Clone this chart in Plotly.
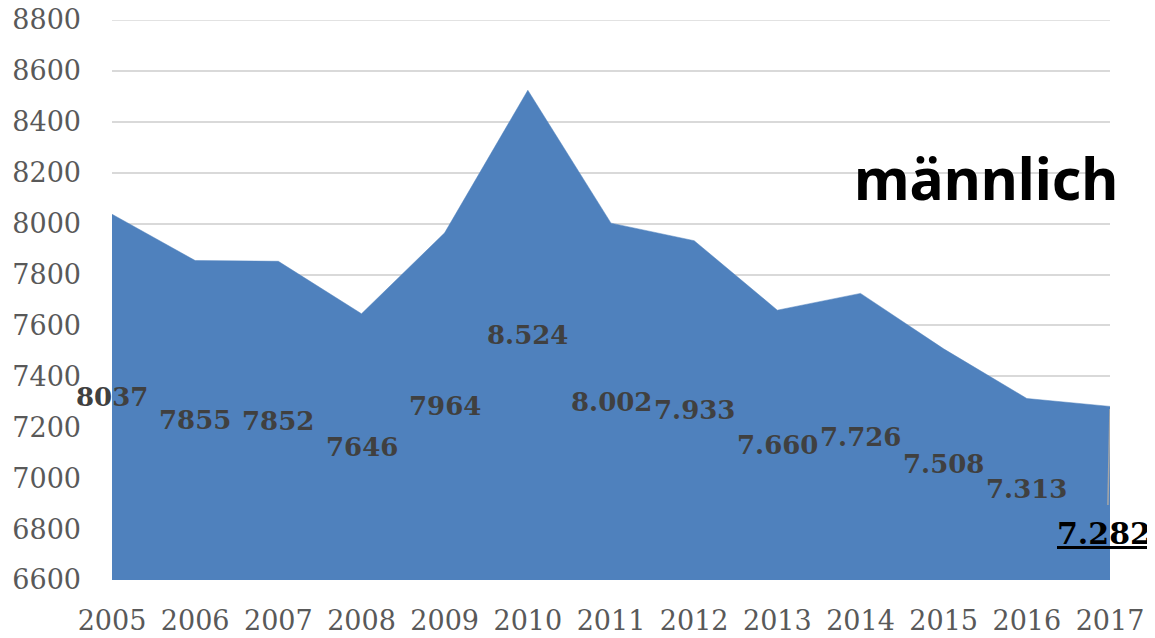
import plotly.graph_objects as go

years = ["2005", "2006", "2007", "2008", "2009", "2010", "2011",
         "2012", "2013", "2014", "2015", "2016", "2017"]
values = [8037, 7855, 7852, 7646, 7964, 8524, 8002, 7933, 7660, 7726, 7508, 7313, 7282]
label_texts = ["8037", "7855", "7852", "7646", "7964", "8.524", "8.002",
               "7.933", "7.660", "7.726", "7.508", "7.313", "7.282"]
y_ticks = [6600, 6800, 7000, 7200, 7400, 7600, 7800, 8000, 8200, 8400, 8600, 8800]
title_text = "männlich"

Y_MIN, Y_MAX = 6600, 8800
BLUE = "#4F81BD"
GRID = "#D9D9D9"

fig = go.Figure()
fig.add_trace(go.Scatter(
    x=list(range(len(years))), y=values, mode="lines",
    fill="tozeroy", fillcolor=BLUE,
    line=dict(color=BLUE, width=0.5),
    hoverinfo="skip", showlegend=False,
))

# data labels, centred vertically in the area (as in the original)
for i, (v, t) in enumerate(zip(values, label_texts)):
    if i == len(values) - 1:
        continue
    fig.add_annotation(
        x=i, y=(v + Y_MIN) / 2, xref="x", yref="y", text="<b>" + t + "</b>",
        showarrow=False, font=dict(family="DejaVu Serif", size=26, color="#404040"),
    )

# last label, moved down with leader line and underline
last = len(values) - 1
last_label_y = 6784
fig.add_shape(type="line", xref="x", yref="y",
              x0=last, y0=values[last] - 10, x1=last - 0.025, y1=6895,
              line=dict(color="#A6A6A6", width=1.5))
fig.add_annotation(
    x=last, y=last_label_y, xref="x", yref="y", xshift=-6,
    text="<b><u>" + label_texts[last] + "</u></b>", showarrow=False,
    font=dict(family="DejaVu Serif", size=30, color="#000000"),
)

# top gridline (plotly drops the grid line lying on the plot edge)
fig.add_shape(type="line", xref="paper", yref="y", x0=0, x1=1, y0=Y_MAX, y1=Y_MAX,
              line=dict(color=GRID, width=1.5), layer="below")

fig.add_annotation(
    x=0.876, y=0.718, xref="paper", yref="paper", text=title_text,
    xanchor="center", yanchor="middle",
    showarrow=False, font=dict(family="Noto Sans", size=57, color="#000000", weight="bold"),
)

# page body has an 8px default margin, so the figure is sized to fit inside
fig.update_layout(
    width=1147, height=630,
    margin=dict(l=104, r=45, t=12, b=58, autoexpand=False),
    paper_bgcolor="white", plot_bgcolor="white",
    xaxis=dict(
        tickmode="array", tickvals=list(range(len(years))), ticktext=years,
        range=[0, len(years) - 1], showgrid=False, zeroline=False, showline=False,
        ticks="", ticklabelstandoff=22, automargin=False, ticklabeloverflow="allow",
        tickfont=dict(family="DejaVu Serif", size=27, color="#595959"),
    ),
    yaxis=dict(
        range=[Y_MIN, Y_MAX], tickmode="array", tickvals=y_ticks,
        ticktext=[str(t) for t in y_ticks],
        showgrid=True, gridcolor=GRID, gridwidth=1.5, zeroline=False,
        showline=False, ticks="", ticklabelstandoff=30, automargin=False,
        ticklabeloverflow="allow",
        tickfont=dict(family="DejaVu Serif", size=27, color="#595959"),
    ),
)

fig.write_html("out.html")
